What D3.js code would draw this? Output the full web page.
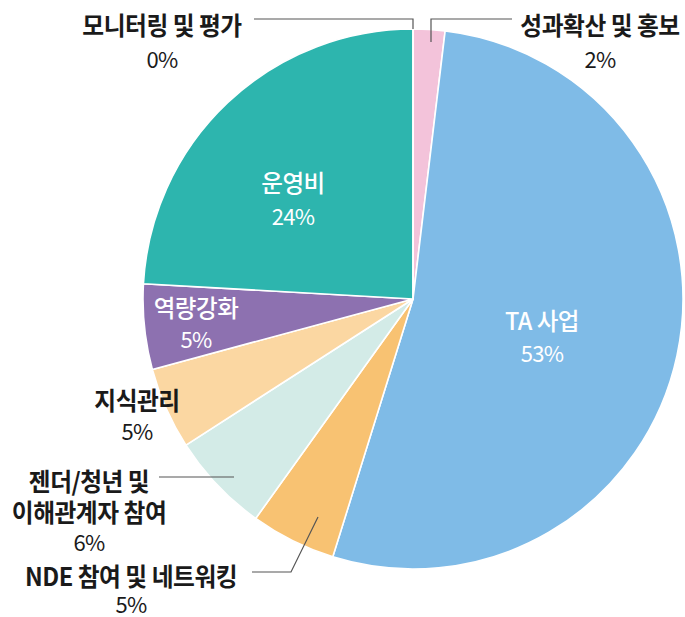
<!DOCTYPE html>
<html>
<head>
<meta charset="UTF-8">
<script src="https://d3js.org/d3.v7.min.js"></script>
<style>
  body { margin: 0; background: #fff; }
  text { font-family: "Noto Sans CJK KR", "Noto Sans", sans-serif; }
</style>
</head>
<body>
<div id="chart"></div>
<script>
// 데이터
var categories = ["성과확산 및 홍보", "TA 사업", "NDE 참여 및 네트워킹", "젠더/청년 및\n이해관계자 참여", "지식관리", "역량강화", "운영비", "모니터링 및 평가"];
var values = [1.9, 52.9, 5.1, 6.0, 4.9, 5.1, 24.1, 0];
var pctLabels = ["2%", "53%", "5%", "6%", "5%", "5%", "24%", "0%"];
var colors = ["#f3c3da", "#7fbbe7", "#f8c272", "#d3ebe7", "#fbd7a2", "#8d71b0", "#2db5ae", "#f3c3da"];

var width = 685, height = 617;
var cx = 413, cy = 299, radius = 270;

// 라벨 위치 (이름 첫 줄 중심, 퍼센트 중심)
var labelPos = [
  {x: 600, y: 24, py: 58, inside: false},
  {x: 542, y: 319, py: 352, inside: true},
  {x: 131, y: 575, py: 603, inside: false},
  {x: 89, y: 480, py: 541, inside: false},
  {x: 137, y: 399, py: 430, inside: false},
  {x: 196, y: 306, py: 338, inside: true},
  {x: 293, y: 181, py: 215, inside: true},
  {x: 162, y: 24, py: 58, inside: false}
];
// 지시선
var leaders = [
  [[431, 42], [431, 19], [512, 19]],
  null,
  [[318, 517], [291, 572], [252, 572]],
  [[234, 477], [159, 477]],
  null, null, null,
  [[413, 29], [413, 19], [254, 19]]
];

var svg = d3.select("#chart").append("svg")
  .attr("width", width).attr("height", height);

var pie = d3.pie().sort(null).value(function(d){ return d; });
var arc = d3.arc().innerRadius(0).outerRadius(radius);

var g = svg.append("g").attr("transform", "translate(" + cx + "," + cy + ")");
g.selectAll("path")
  .data(pie(values))
  .enter().append("path")
  .attr("d", arc)
  .attr("fill", function(d, i){ return colors[i]; })
  .attr("stroke", "#fff")
  .attr("stroke-width", 1.6);

// 지시선 그리기
var line = d3.line();
svg.selectAll(".leader")
  .data(leaders.filter(function(l){ return l; }))
  .enter().append("path")
  .attr("class", "leader")
  .attr("d", line)
  .attr("fill", "none")
  .attr("stroke", "#555")
  .attr("stroke-width", 1.2);

// 라벨 (좁은 글꼴 흉내: 가로 축소)
categories.forEach(function(name, i){
  var p = labelPos[i];
  var lines = name.split("\n");
  var fill = p.inside ? "#fff" : "#1a1a1a";
  lines.forEach(function(l, k){
    svg.append("text")
      .attr("transform", "translate(" + p.x + "," + (p.y + k * 31) + ") scale(" + (p.inside ? 0.98 : 0.95) + ",1)")
      .attr("text-anchor", "middle")
      .attr("dominant-baseline", "central")
      .attr("font-size", p.inside ? 24 : 25)
      .attr("font-weight", p.inside ? 500 : 700)
      .attr("letter-spacing", "-0.5px")
      .attr("fill", fill)
      .text(l);
  });
  svg.append("text")
    .attr("x", p.x).attr("y", p.py)
    .attr("text-anchor", "middle")
    .attr("dominant-baseline", "central")
    .attr("font-size", 22)
    .attr("font-weight", 400)
    .attr("letter-spacing", "-0.8px")
    .attr("fill", fill)
    .text(pctLabels[i]);
});
</script>
</body>
</html>
